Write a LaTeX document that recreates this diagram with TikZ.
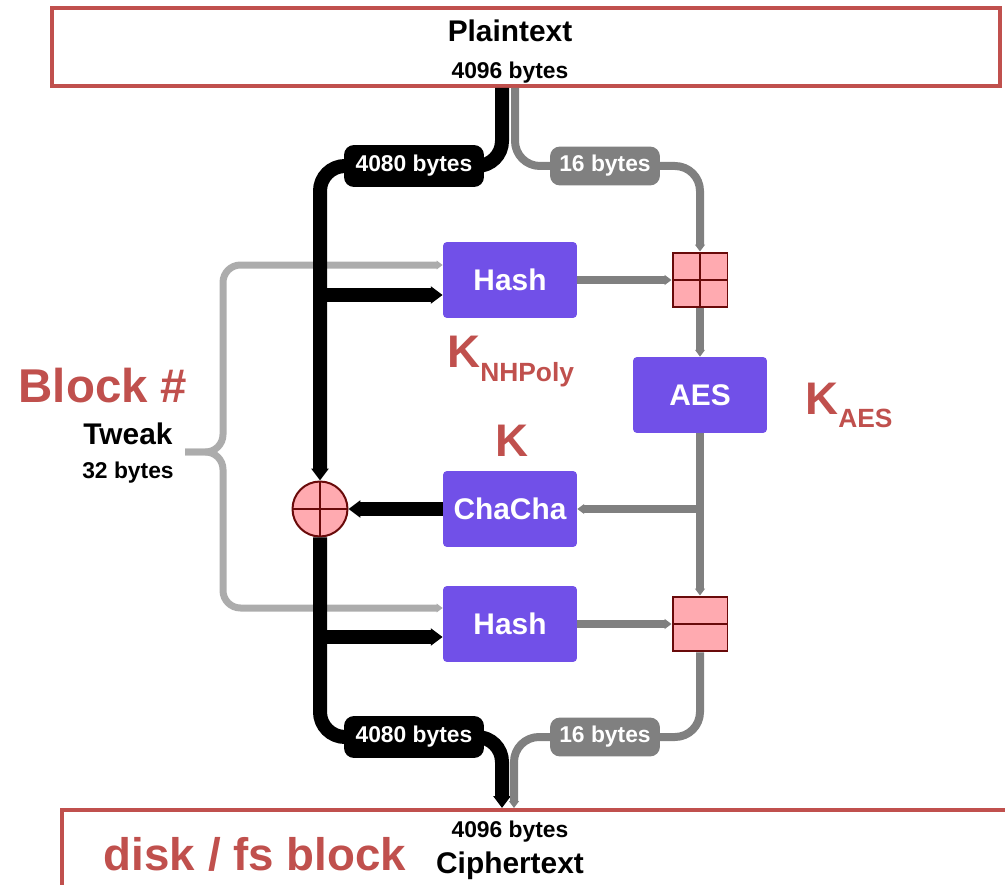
\documentclass[tikz,border=0pt]{standalone}
\usepackage{fontspec}
\setmainfont{Liberation Sans}
\usetikzlibrary{arrows.meta}

\definecolor{boxred}{RGB}{192,80,77}
\definecolor{algopurple}{RGB}{113,80,232}
\definecolor{mixpink}{RGB}{255,170,176}
\definecolor{mixdark}{RGB}{105,10,10}
\definecolor{flowgray}{RGB}{128,128,128}
\definecolor{tweakgray}{RGB}{172,172,172}

\newcommand{\fsz}[1]{\fontsize{#1}{#1}\selectfont\bfseries}

\tikzset{
  outerbox/.style={draw=boxred,line width=0.08cm,inner sep=0pt},
  algo/.style={fill=algopurple,text=white,rounded corners=0.08cm,
    minimum width=2.68cm,minimum height=1.52cm,font=\fsz{17}},
  mixbox/.style={draw=mixdark,fill=mixpink,line width=0.04cm,minimum size=1.1cm,inner sep=0pt},
  gridfour/.style={mixbox,path picture={
    \draw[mixdark,line width=0.04cm] (path picture bounding box.north) -- (path picture bounding box.south)
      (path picture bounding box.west) -- (path picture bounding box.east);}},
  gridtwo/.style={mixbox,path picture={
    \draw[mixdark,line width=0.04cm] (path picture bounding box.west) -- (path picture bounding box.east);}},
  xorring/.style={gridfour,circle},
  bigflow/.style={draw=black,line width=0.28cm,rounded corners=0.5cm},
  smallflow/.style={draw=flowgray,line width=0.16cm,rounded corners=0.5cm},
  tweakflow/.style={draw=tweakgray,line width=0.14cm,rounded corners=0.35cm},
  lenbig/.style={fill=black,text=white,rounded corners=0.2cm,
    minimum width=2.8cm,minimum height=0.84cm,inner sep=0pt,font=\fsz{13}},
  lensmall/.style={lenbig,fill=flowgray,minimum width=2.2cm,minimum height=0.78cm},
  keytext/.style={text=boxred,font=\fsz{26},inner sep=0pt},
  boldtext/.style={font=\fsz{#1},inner sep=0pt}
}

\begin{document}
\begin{tikzpicture}[x=0.02cm,y=-0.02cm,>={Triangle[length=0pt 0.85,width=0pt 1.2]}]
\useasboundingbox (0,0) rectangle (1005,885);
\clip (0,0) rectangle (1005,885);

% blocks
\node[outerbox,minimum width=18.96cm,minimum height=1.56cm] (plain) at (526,47) {};
\node[outerbox,minimum width=20cm,minimum height=2.4cm] (cipher) at (562,870) {};
\node[boldtext=17,anchor=base] (plaintitle) at (510,42) {Plaintext};
\node[boldtext=13,anchor=base] (plainsize) at (510,79) {4096 bytes};
\node[boldtext=13,anchor=base] (ciphersize) at (510,837) {4096 bytes};
\node[boldtext=17,anchor=base] (ciphertitle) at (510,873) {Ciphertext};
\node[keytext,anchor=base] (diskblock) at (255,870) {disk / fs block};

% algorithms
\node[algo] (hashA) at (510,280) {Hash};
\node[algo] (aes) at (700,395) {AES};
\node[algo] (chacha) at (510,509) {ChaCha};
\node[algo] (hashB) at (510,624) {Hash};
\node[gridfour] (addA) at (700,280) {};
\node[gridtwo] (subB) at (700,624) {};
\node[xorring] (xorC) at (320,509) {};

\coordinate (topA) at (502,88);
\coordinate (topB) at (515,88);
\coordinate (botA) at (502,808);
\coordinate (botB) at (514,808);
\coordinate (midA) at (414,166);
\coordinate (midB) at (605,166);
\coordinate (midC) at (414,737);
\coordinate (midD) at (605,737);
\coordinate (brace) at (223,452);
\coordinate (tweaktip) at (185,452);
\coordinate (twA) at ([yshift=0.3cm]hashA.west);
\coordinate (twB) at ([yshift=0.32cm]hashB.west);
\coordinate (brA) at ([yshift=-0.3cm]hashA.west);
\coordinate (brB) at ([yshift=-0.26cm]hashB.west);

% tweak
\draw[tweakflow,->] (tweaktip) -- (brace) |- (twA);
\draw[tweakflow,->] (tweaktip) -- (brace) |- (twB);

% 4080 bytes
\draw[bigflow,->] (topA) |- (midA) -| (xorC.north);
\draw[bigflow,->] (brA -| xorC) -- (brA);
\draw[bigflow,->] (chacha) -- (xorC);
\draw[bigflow,->] (xorC.south) |- (midC) -| (botA);
\draw[bigflow,->] (brB -| xorC) -- (brB);

% 16 bytes
\draw[smallflow,->] (topB) |- (midB) -| (addA.north);
\draw[smallflow,->] (hashA) -- (addA);
\draw[smallflow,->] (addA) -- (aes);
\draw[smallflow,->] (aes) -- (subB);
\draw[smallflow,->] (aes |- chacha) -- (chacha);
\draw[smallflow,->] (hashB) -- (subB);
\draw[smallflow,->] (subB) |- (midD) -| (botB);

\node[lenbig] (lenA) at (midA) {4080 bytes};
\node[lensmall] (lenB) at (midB) {16 bytes};
\node[lenbig] (lenC) at (midC) {4080 bytes};
\node[lensmall] (lenD) at (midD) {16 bytes};

% keys and tweak
\node[keytext,anchor=base west] (knh) at (447,368) {K\raisebox{-0.28cm}{\fsz{15}NHPoly}};
\node[keytext,anchor=base] (kchacha) at (512,457) {K};
\node[keytext,anchor=base west] (kaes) at (805,415) {K\raisebox{-0.26cm}{\fsz{15}AES}};
\node[keytext,font=\fsz{27},anchor=base] (blocknum) at (103,403) {Block \#};
\node[boldtext=17,anchor=base] (tweak) at (128,444) {Tweak};
\node[boldtext=13,anchor=base] (tweaksize) at (128,479) {32 bytes};
\end{tikzpicture}
\end{document}
